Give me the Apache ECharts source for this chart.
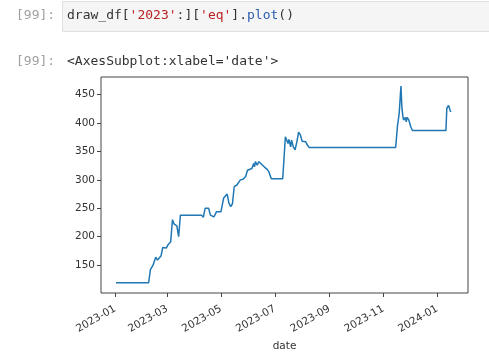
<!DOCTYPE html>
<html>
<head>
<meta charset="utf-8">
<script src="https://cdn.jsdelivr.net/npm/echarts@6/dist/echarts.min.js"></script>
<style>html,body{margin:0;padding:0;background:#fff;}#c{width:489px;height:359px;}</style>
</head>
<body>
<div id="c"></div>
<script>
var dates = [
 '2023-01-02','2023-02-08','2023-02-10','2023-02-13','2023-02-16','2023-02-18','2023-02-22','2023-02-24','2023-02-28',
 '2023-03-02','2023-03-05','2023-03-07','2023-03-09','2023-03-12','2023-03-14','2023-03-16','2023-04-09','2023-04-11',
 '2023-04-13','2023-04-17','2023-04-19','2023-04-23','2023-04-26','2023-05-01','2023-05-03','2023-05-04','2023-05-06',
 '2023-05-08','2023-05-10','2023-05-12','2023-05-14','2023-05-16','2023-05-19','2023-05-23','2023-05-26','2023-05-29',
 '2023-05-31','2023-06-05','2023-06-07','2023-06-08','2023-06-09','2023-06-11','2023-06-13','2023-06-15','2023-06-19',
 '2023-06-22','2023-06-24','2023-06-27','2023-07-10','2023-07-13','2023-07-16','2023-07-17','2023-07-19','2023-07-20',
 '2023-07-22','2023-07-24','2023-07-26','2023-07-28','2023-07-30','2023-08-01','2023-08-03','2023-08-05','2023-08-07',
 '2023-08-09','2023-11-15','2023-11-17','2023-11-19','2023-11-21','2023-11-22','2023-11-23','2023-11-24','2023-11-26',
 '2023-11-27','2023-11-28','2023-11-30','2023-12-02','2023-12-04','2024-01-11','2024-01-12','2024-01-14','2024-01-16',
 '2024-01-17'
];
var eq = [
 119,119,142,150,164,159,166,181,180,
 186,191,230,222,219,200,238,238,234,
 250,250,238,235,244,244,241,268,265,
 275,259,253,258,288,291,300,301,306,
 317,320,329,323,332,326,332,329,323,
 319,315,302,302,376,364,371,358,370,
 358,353,367,384,379,368,371,367,361,
 357,357,394,417,465,429,414,405,410,
 402,410,405,394,387,387,426,431,421,
 420
];
var xTickLabels = ['2023-01','2023-03','2023-05','2023-07','2023-09','2023-11','2024-01'];
var yTickLabels = [150,200,250,300,350,400,450];

function ts(s){ var p=s.split('-'); return Date.UTC(+p[0], +p[1]-1, p[2]?+p[2]:1); }
var xTicks = xTickLabels.map(ts);
var seriesData = dates.map(function(d,i){ return [ts(d), eq[i]]; });

var chart = echarts.init(document.getElementById('c'), null, {renderer:'canvas'});
chart.setOption({
  animation:false,
  backgroundColor:'#fff',
  graphic:[
    {type:'rect', shape:{x:62.5,y:1.5,width:440,height:30}, style:{fill:'#f5f5f5', stroke:'#e0e0e0', lineWidth:1}},
    {type:'text', x:16, y:16, style:{text:'[99]:', font:'13px "DejaVu Sans Mono"', fill:'#a0a0a0', verticalAlign:'middle'}},
    {type:'text', x:67, y:16, style:{
      text:'{d|draw_df[}{s|\'2023\'}{d|:][}{s|\'eq\'}{d|].}{b|plot}{d|()}',
      verticalAlign:'middle',
      rich:{
        d:{font:'13px "DejaVu Sans Mono"', fill:'#333333'},
        s:{font:'13px "DejaVu Sans Mono"', fill:'#ba2121'},
        b:{font:'13px "DejaVu Sans Mono"', fill:'#2a5db0'}
      }}},
    {type:'text', x:16, y:62, style:{text:'[99]:', font:'13px "DejaVu Sans Mono"', fill:'#a0a0a0', verticalAlign:'middle'}},
    {type:'text', x:67, y:62, style:{text:"<AxesSubplot:xlabel='date'>", font:'13px "DejaVu Sans Mono"', fill:'#333333', verticalAlign:'middle'}}
  ],
  grid:{left:101, right:21, top:77, bottom:66, show:true, borderColor:'#444', borderWidth:1, backgroundColor:'transparent'},
  xAxis:{
    type:'value',
    min:ts('2022-12-16'), max:ts('2024-02-05'),
    name:'date', nameLocation:'middle', nameGap:46,
    nameTextStyle:{fontFamily:'DejaVu Sans', fontSize:10.5, color:'#333'},
    axisLine:{show:false},
    axisTick:{show:true, length:4, lineStyle:{color:'#444'}, customValues:xTicks},
    axisLabel:{rotate:30, margin:15, fontFamily:'DejaVu Sans', fontSize:10.5, color:'#333',
      customValues:xTicks,
      formatter:function(v){ var d=new Date(v); var m=d.getUTCMonth()+1; return d.getUTCFullYear()+'-'+(m<10?'0':'')+m; }},
    splitLine:{show:false}
  },
  yAxis:{
    type:'value', min:101, max:481,
    axisLine:{show:false},
    axisTick:{show:true, length:4, lineStyle:{color:'#444'}, customValues:yTickLabels},
    axisLabel:{margin:6, fontFamily:'DejaVu Sans', fontSize:10.5, color:'#333', customValues:yTickLabels},
    splitLine:{show:false}
  },
  series:[{
    type:'line', data:seriesData, showSymbol:false,
    lineStyle:{color:'#1f77b4', width:1.5}, itemStyle:{color:'#1f77b4'}
  }]
});
</script>
</body>
</html>
